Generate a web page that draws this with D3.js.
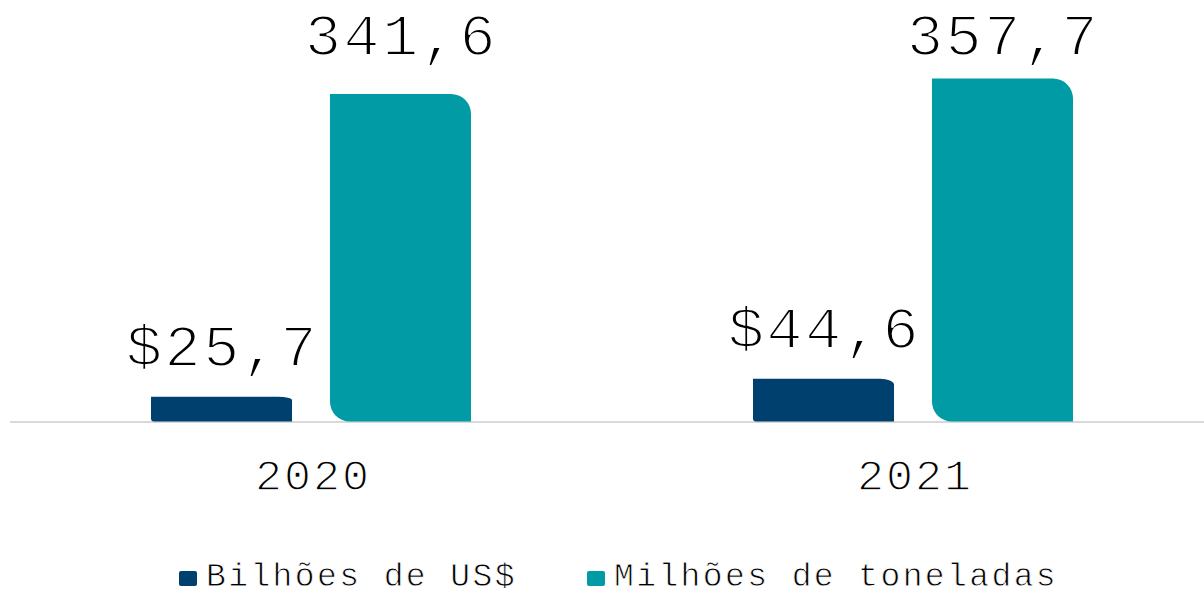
<!DOCTYPE html>
<html>
<head>
<meta charset="utf-8">
<script src="https://cdn.jsdelivr.net/npm/d3@7"></script>
<style>
	body { margin: 0; background: #fff; }
	text { font-family: "Liberation Mono", "Courier New", monospace; fill: #000; stroke: #fff; paint-order: normal; }
</style>
</head>
<body>
<div id="chart"></div>
<script>
let years		= ["2020", "2021"];
let series		= ["Bilhões de US$", "Milhões de toneladas"];
let valuesUSD	= [25.7, 44.6];
let valuesTon	= [341.6, 357.7];
let labelsUSD	= ["$25,7", "$44,6"];
let labelsTon	= ["341,6", "357,7"];
let colors		= ["#00406F", "#009BA4"];

function createChart() {
	let width	= 1204;
	let height	= 591;

	let svg = d3.select("#chart").append("svg")
		.attr("width", width)
		.attr("height", height);

	let x0 = d3.scaleBand()
		.domain(years)
		.range([10, 1214]);

	let x1 = d3.scaleBand()
		.domain(series)
		.range([141, 461])
		.paddingInner(0.212);

	let y = d3.scaleLinear()
		.domain([0, 400])
		.range([421.5, 38]);

	let rows = years.map((yr, i) => ([
		{ year: yr, s: series[0], v: valuesUSD[i], label: labelsUSD[i], c: colors[0] },
		{ year: yr, s: series[1], v: valuesTon[i], label: labelsTon[i], c: colors[1] }
	])).flat();

	// baseline
	svg.append("line")
		.attr("x1", 10).attr("x2", width)
		.attr("y1", y(0) + 0.5).attr("y2", y(0) + 0.5)
		.attr("stroke", "#D9D9D9")
		.attr("stroke-width", 2);

	// bars: top-right and bottom-left corners rounded
	function barPath(d) {
		let x = x0(d.year) + x1(d.s);
		let w = x1.bandwidth();
		let y1 = y(d.v), y0 = y(0);
		let h = y0 - y1;
		let ry = Math.min(20, h * 0.14);
		let rx = h > 100 ? 20 : 14;
		let rb = h > 100 ? 20 : 3;
		return "M" + x + "," + y1 +
			"H" + (x + w - rx) +
			"A" + rx + "," + ry + " 0 0 1 " + (x + w) + "," + (y1 + ry) +
			"V" + y0 +
			"H" + (x + rb) +
			"A" + rb + "," + Math.min(rb, ry) + " 0 0 1 " + x + "," + (y0 - Math.min(rb, ry)) +
			"Z";
	}

	svg.selectAll("path.bar")
		.data(rows)
		.enter().append("path")
		.attr("class", "bar")
		.attr("d", barPath)
		.attr("fill", (d) => d.c);

	// value labels
	svg.selectAll("text.val")
		.data(rows)
		.enter().append("text")
		.attr("class", "val")
		.attr("x", (d) => x0(d.year) + x1(d.s) + x1.bandwidth() / 2 + 1)
		.attr("y", (d) => d.s === series[0] ? y(d.v) - 31 : 55)
		.attr("text-anchor", "middle")
		.style("font-size", "60px")
		.style("letter-spacing", "2.6px")
		.style("stroke-width", "2px")
		.text((d) => d.label);

	// category labels
	svg.selectAll("text.cat")
		.data(years)
		.enter().append("text")
		.attr("class", "cat")
		.attr("x", (d) => x0(d) + x0.bandwidth() / 2 + 2)
		.attr("y", 490)
		.attr("text-anchor", "middle")
		.style("font-size", "45px")
		.style("letter-spacing", "2px")
		.style("stroke-width", "1.4px")
		.text((d) => d);

	// legend
	let legendX = [179, 587];
	let leg = svg.selectAll("g.legend")
		.data(series)
		.enter().append("g")
		.attr("class", "legend")
		.attr("transform", (d, i) => "translate(" + legendX[i] + ",0)");

	leg.append("rect")
		.attr("x", 0).attr("y", 571)
		.attr("width", 18).attr("height", 15)
		.attr("rx", 2)
		.style("stroke", "none")
		.attr("fill", (d, i) => colors[i]);

	leg.append("text")
		.attr("x", 27)
		.attr("y", 586)
		.style("font-size", "33px")
		.style("letter-spacing", "2.4px")
		.style("stroke-width", "0.8px")
		.text((d) => d);
}

createChart();
</script>
</body>
</html>
